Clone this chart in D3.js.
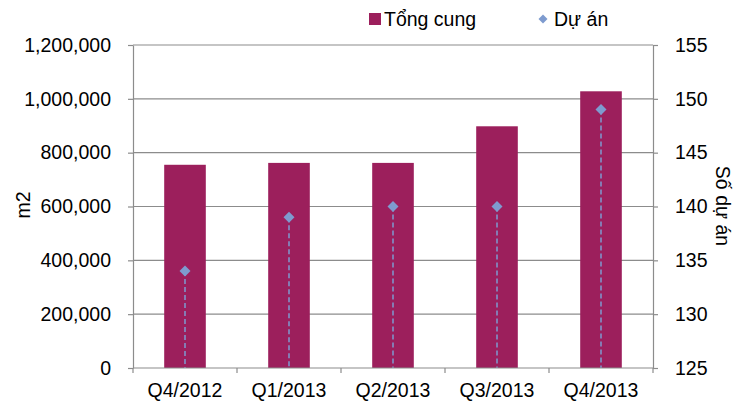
<!DOCTYPE html>
<html>
<head>
<meta charset="utf-8">
<script src="https://cdn.jsdelivr.net/npm/d3@7"></script>
<style>
  body { margin: 0; background: #fff; }
  svg { font-family: "Liberation Sans", Arial, sans-serif; }
</style>
</head>
<body>
<div id="viz"></div>
<script>
const quarters = ['Q4/2012', 'Q1/2013', 'Q2/2013', 'Q3/2013', 'Q4/2013'];
const supply = [755000, 762000, 762000, 898000, 1028000];
const projects = [134, 139, 140, 140, 149];
const leftTicks = [0, 200000, 400000, 600000, 800000, 1000000, 1200000];
const rightTicks = [125, 130, 135, 140, 145, 150, 155];

const W = 733, H = 408;
const margin = { top: 45, right: 80, bottom: 40, left: 133 };
const width = W - margin.left - margin.right;
const height = H - margin.top - margin.bottom;
const barColor = '#9c1f5c';
const dotColor = '#7e9bcf';
const gridColor = '#8c8c8c';
const fs = '19.5px';

const svg = d3.select('#viz').append('svg')
  .attr('width', W).attr('height', H);
const g = svg.append('g')
  .attr('transform', `translate(${margin.left},${margin.top})`);

const x = d3.scaleBand().domain(quarters).range([0, width]).paddingInner(0.6).paddingOuter(0.3);
const xTick = d3.scaleLinear().domain([0, quarters.length]).range([0, width]);
const yL = d3.scaleLinear().domain([0, 1200000]).range([height, 0]);
const yR = d3.scaleLinear().domain([125, 155]).range([height, 0]);

// gridlines
g.selectAll('line.grid')
  .data(leftTicks.slice(1))
  .join('line')
  .attr('class', 'grid')
  .attr('x1', 0).attr('x2', width)
  .attr('y1', d => yL(d)).attr('y2', d => yL(d))
  .attr('stroke', gridColor).attr('stroke-width', 1.2);

// bars
g.selectAll('rect.bar')
  .data(supply)
  .join('rect')
  .attr('class', 'bar')
  .attr('x', (d, i) => x(quarters[i]))
  .attr('y', d => yL(d))
  .attr('width', x.bandwidth())
  .attr('height', d => height - yL(d))
  .attr('fill', barColor);

// dashed drop lines
const cx = i => x(quarters[i]) + x.bandwidth() / 2;
g.selectAll('line.drop')
  .data(projects)
  .join('line')
  .attr('class', 'drop')
  .attr('x1', (d, i) => cx(i)).attr('x2', (d, i) => cx(i))
  .attr('y1', d => yR(d)).attr('y2', height)
  .attr('stroke', dotColor).attr('stroke-width', 1.5)
  .attr('stroke-dasharray', '5,3');

const diamond = s => `M0,${-s}L${s},0L0,${s}L${-s},0Z`;
g.selectAll('path.dot')
  .data(projects)
  .join('path')
  .attr('class', 'dot')
  .attr('d', diamond(5.5))
  .attr('transform', (d, i) => `translate(${cx(i)},${yR(d)})`)
  .attr('fill', dotColor);

// axes
const styleAxis = sel => {
  sel.select('.domain').attr('stroke', gridColor).attr('stroke-width', 1.2);
  sel.selectAll('.tick line').attr('stroke', gridColor).attr('stroke-width', 1.2);
  sel.selectAll('.tick text').attr('fill', '#000').style('font-size', fs);
};

g.append('g')
  .call(d3.axisLeft(yL).tickValues(leftTicks).tickSize(5).tickPadding(17)
    .tickFormat(d3.format(',')).tickSizeOuter(0))
  .call(styleAxis);

g.append('g')
  .attr('transform', `translate(${width},0)`)
  .call(d3.axisRight(yR).tickValues(rightTicks).tickSize(5).tickPadding(17).tickSizeOuter(0))
  .call(styleAxis);

const xAxis = g.append('g').attr('transform', `translate(0,${height})`);
xAxis.append('line')
  .attr('x1', 0).attr('x2', width)
  .attr('stroke', gridColor).attr('stroke-width', 1.2);
xAxis.selectAll('line.xt')
  .data(d3.range(quarters.length + 1))
  .join('line')
  .attr('class', 'xt')
  .attr('x1', d => xTick(d)).attr('x2', d => xTick(d))
  .attr('y1', 0).attr('y2', 5)
  .attr('stroke', gridColor).attr('stroke-width', 1.2);
xAxis.selectAll('text')
  .data(quarters)
  .join('text')
  .attr('x', (d, i) => cx(i))
  .attr('y', 29)
  .attr('text-anchor', 'middle')
  .style('font-size', fs)
  .text(d => d);

// axis titles
svg.append('text')
  .attr('transform', 'translate(25,205) rotate(-90)')
  .attr('text-anchor', 'middle')
  .attr('dominant-baseline', 'middle')
  .style('font-size', fs)
  .text('m2');
svg.append('text')
  .attr('transform', 'translate(721,206) rotate(90)')
  .attr('text-anchor', 'middle')
  .attr('dominant-baseline', 'middle')
  .style('font-size', fs)
  .text('Số dự án');

// legend
const legend = svg.append('g');
legend.append('rect')
  .attr('x', 369).attr('y', 13).attr('width', 12).attr('height', 12)
  .attr('fill', barColor);
legend.append('text')
  .attr('x', 384).attr('y', 26)
  .style('font-size', fs)
  .text('Tổng cung');
legend.append('path')
  .attr('d', diamond(4.5))
  .attr('transform', 'translate(543,19)')
  .attr('fill', dotColor);
legend.append('text')
  .attr('x', 554).attr('y', 26)
  .style('font-size', fs)
  .text('Dự án');
</script>
</body>
</html>
